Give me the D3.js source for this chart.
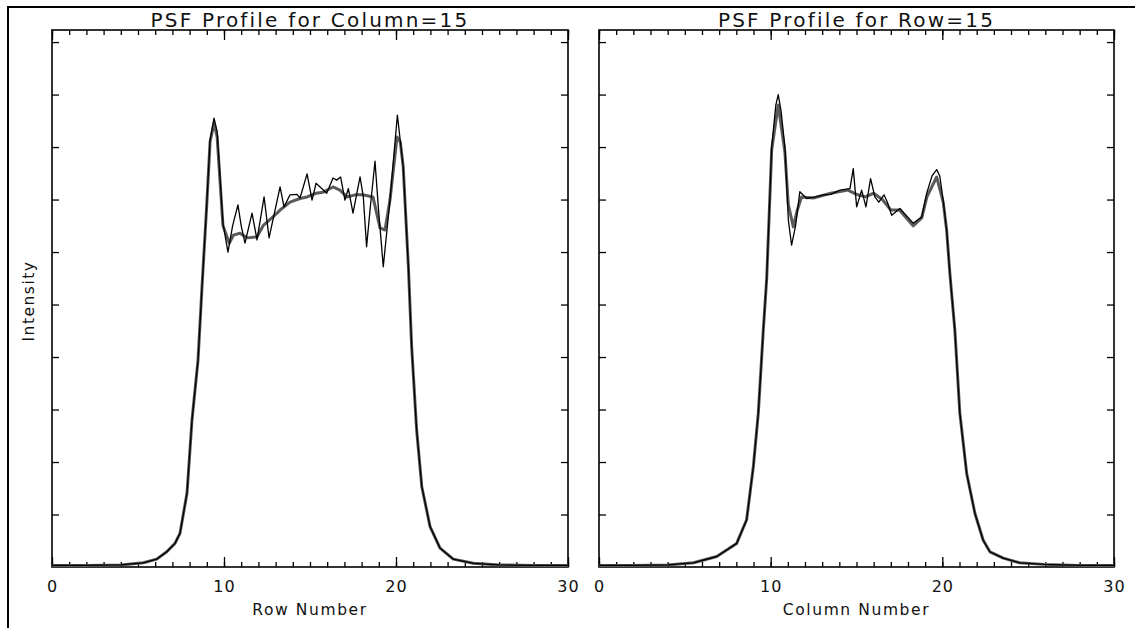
<!DOCTYPE html>
<html>
<head>
<meta charset="utf-8">
<script src="https://cdn.jsdelivr.net/npm/d3@7"></script>
<style>
  html, body { margin: 0; padding: 0; background: #fff; }
  svg { display: block; }
  text { font-family: "DejaVu Sans", sans-serif; fill: #111; }
</style>
</head>
<body>
<svg id="chart" width="1135" height="628"></svg>
<script>
// ---------------- data ----------------
const panelTitles = ["PSF Profile for Column=15", "PSF Profile for Row=15"];
const xAxisTitles = ["Row Number", "Column Number"];
const yAxisTitle = "Intensity";
const xMajorTicks = [0, 10, 20, 30];
const xMinorTicks = d3.range(0, 31, 1);
const yTicks = [1, 2, 3, 4, 5, 6, 7, 8, 9, 10];

// Left panel (Column=15): raw profile (thin) and smoothed model (thick gray)
const colRawX = [0,2,4,5.31,6.09,6.67,7.15,7.44,7.85,8.14,8.49,8.72,8.99,9.19,9.42,9.6,9.94,10.23,10.5,10.81,11.0,11.22,11.63,11.92,12.33,12.62,13.26,13.49,13.84,14.24,14.42,14.83,15.12,15.35,15.68,15.97,16.34,16.55,16.78,17.03,17.23,17.5,17.91,18.1,18.29,18.49,18.78,18.97,19.26,19.65,20.08,20.42,20.72,20.91,21.2,21.5,21.98,22.56,23.33,24.5,26,28,30];
const colRawY = [0.03,0.03,0.04,0.08,0.15,0.29,0.45,0.64,1.41,2.8,3.94,5.33,6.86,8.13,8.55,8.3,6.55,6.0,6.5,6.9,6.5,6.17,6.74,6.23,7.05,6.27,7.24,6.86,7.09,7.1,7.03,7.49,6.99,7.31,7.21,7.12,7.41,7.37,7.43,6.99,7.21,6.74,7.43,7.05,6.1,6.8,7.73,6.86,5.72,6.99,8.61,7.62,5.72,4.2,2.61,1.53,0.77,0.36,0.15,0.07,0.04,0.03,0.03];
const colFitX = [0,2,4,5.31,6.09,6.67,7.15,7.44,7.85,8.14,8.49,8.72,8.99,9.19,9.42,9.6,9.94,10.31,10.54,10.93,11.34,11.92,12.29,12.85,13.26,13.84,14.42,14.83,15.35,15.76,16.34,16.74,17.15,17.62,18.08,18.66,19.07,19.36,19.65,20.06,20.25,20.42,20.72,20.91,21.2,21.5,21.98,22.56,23.33,24.5,26,28,30];
const colFitY = [0.03,0.03,0.04,0.08,0.15,0.29,0.45,0.64,1.41,2.8,3.94,5.33,6.86,8.1,8.45,8.2,6.5,6.17,6.32,6.36,6.27,6.29,6.51,6.67,6.8,6.95,7.02,7.05,7.12,7.14,7.24,7.18,7.05,7.09,7.09,7.05,6.46,6.42,6.99,8.19,8.1,7.62,5.72,4.2,2.61,1.53,0.77,0.36,0.15,0.07,0.04,0.03,0.03];

// Right panel (Row=15)
const rowRawX = [0,2,4,5.5,6.86,8.02,8.6,8.99,9.28,9.57,9.77,10.06,10.3,10.44,10.6,10.83,11.03,11.22,11.45,11.7,12.1,12.6,13.06,13.5,14.04,14.62,14.81,15.01,15.3,15.55,15.82,16.07,16.3,16.6,16.8,17.05,17.53,18.3,18.8,19.09,19.4,19.67,19.85,20.05,20.25,20.44,20.73,21.02,21.42,21.9,22.38,22.77,23.55,24.5,25.9,28,30];
const rowRawY = [0.03,0.03,0.04,0.08,0.2,0.45,0.9,1.91,2.93,4.51,5.5,8.0,8.8,9.0,8.7,8.0,6.61,6.13,6.5,7.15,7.02,7.05,7.09,7.1,7.18,7.21,7.59,6.86,7.18,6.86,7.4,7.05,6.95,7.09,6.95,6.7,6.83,6.55,6.67,7.12,7.45,7.57,7.45,6.99,6.42,5.59,4.51,2.93,1.78,1.02,0.51,0.29,0.17,0.08,0.05,0.03,0.03];
const rowFitX = [0,2,4,5.5,6.86,8.02,8.6,8.99,9.28,9.57,9.77,10.06,10.44,10.83,11.03,11.32,11.55,11.8,12.5,13.5,14.5,15.0,15.5,16.0,16.5,17.0,17.5,18.3,18.8,19.1,19.67,20.05,20.25,20.44,20.73,21.02,21.42,21.9,22.38,22.77,23.55,24.5,25.9,28,30];
const rowFitY = [0.03,0.03,0.04,0.08,0.2,0.45,0.9,1.91,2.93,4.51,5.5,7.95,8.8,7.9,6.9,6.48,6.8,7.05,7.03,7.12,7.18,7.1,7.05,7.12,7.0,6.8,6.8,6.5,6.65,7.05,7.43,6.95,6.42,5.59,4.51,2.93,1.78,1.02,0.51,0.29,0.17,0.08,0.05,0.03,0.03];

// ---------------- layout ----------------
const svg = d3.select("#chart");
const plotTop = 30, plotBottom = 567;
const panels = [
  { left: 52, right: 568, title: panelTitles[0], xTitle: xAxisTitles[0], raw: [colRawX, colRawY], fit: [colFitX, colFitY] },
  { left: 599, right: 1114, title: panelTitles[1], xTitle: xAxisTitles[1], raw: [rowRawX, rowRawY], fit: [rowFitX, rowFitY] }
];
const yScale = d3.scaleLinear().domain([0, 10.23]).range([plotBottom, plotTop]);

// outer frame (left and top edges visible)
svg.append("path").attr("d", "M8,628 L8,7 L1135,7")
  .attr("fill", "none").attr("stroke", "#000").attr("stroke-width", 2);

panels.forEach((p, i) => {
  const xScale = d3.scaleLinear().domain([0, 30]).range([p.left, p.right]);
  const g = svg.append("g");

  const minorB = d3.axisBottom(xScale).tickValues(xMinorTicks).tickSize(-5).tickFormat("");
  const majorB = d3.axisBottom(xScale).tickValues(xMajorTicks).tickSize(-10).tickPadding(25).tickFormat(d3.format("d"));
  const minorT = d3.axisTop(xScale).tickValues(xMinorTicks).tickSize(-5).tickFormat("");
  const majorT = d3.axisTop(xScale).tickValues(xMajorTicks).tickSize(-10).tickFormat("");
  const yl = d3.axisLeft(yScale).tickValues(yTicks).tickSize(-7).tickFormat("");
  const yr = d3.axisRight(yScale).tickValues(yTicks).tickSize(-7).tickFormat("");

  [[minorB, `translate(0,${plotBottom})`], [majorB, `translate(0,${plotBottom})`],
   [minorT, `translate(0,${plotTop})`], [majorT, `translate(0,${plotTop})`],
   [yl, `translate(${p.left},0)`], [yr, `translate(${p.right},0)`]].forEach(([ax, tr]) => {
    const a = g.append("g").attr("transform", tr).call(ax);
    a.select(".domain").remove();
    a.selectAll("line").attr("stroke", "#000").attr("stroke-width", 1.3);
    a.selectAll("text").attr("font-size", 16).attr("letter-spacing", 1)
      .attr("font-family", "DejaVu Sans").attr("fill", "#111").attr("dy", "0");
  });

  g.append("rect").attr("x", p.left).attr("y", plotTop)
    .attr("width", p.right - p.left).attr("height", plotBottom - plotTop)
    .attr("fill", "none").attr("stroke", "#000").attr("stroke-width", 1.6);

  const line = d3.line().x(d => xScale(d[0])).y(d => yScale(d[1]));
  const fitPts = p.fit[0].map((v, k) => [v, p.fit[1][k]]);
  const rawPts = p.raw[0].map((v, k) => [v, p.raw[1][k]]);
  g.append("path").datum(fitPts).attr("d", line)
    .attr("fill", "none").attr("stroke", "#5a5a5a").attr("stroke-width", 3).attr("stroke-linejoin", "round");
  g.append("path").datum(rawPts).attr("d", line)
    .attr("fill", "none").attr("stroke", "#000").attr("stroke-width", 1.3).attr("stroke-linejoin", "round");

  g.append("text").attr("x", (p.left + p.right) / 2).attr("y", 27)
    .attr("text-anchor", "middle").attr("font-size", 20).attr("letter-spacing", 2.2)
    .text(p.title);
  g.append("text").attr("x", (p.left + p.right) / 2).attr("y", 615)
    .attr("text-anchor", "middle").attr("font-size", 15.5).attr("letter-spacing", 1.6)
    .text(p.xTitle);
});

svg.append("text").attr("transform", "translate(34,301) rotate(-90)")
  .attr("text-anchor", "middle").attr("font-size", 15.5).attr("letter-spacing", 1.5)
  .text(yAxisTitle);
</script>
</body>
</html>
